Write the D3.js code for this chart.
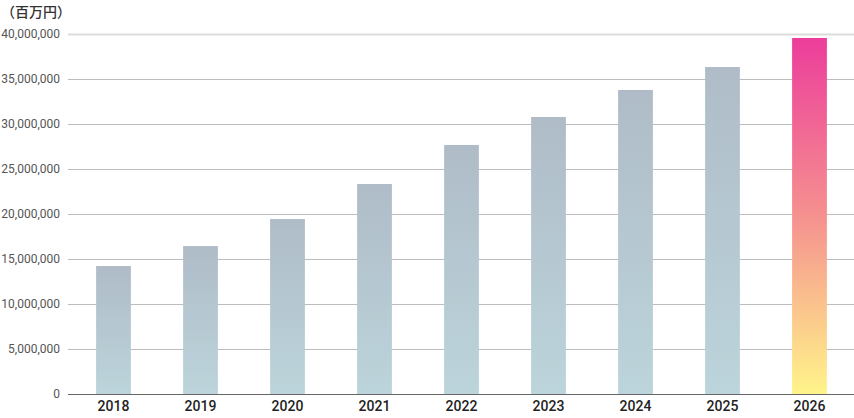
<!DOCTYPE html>
<html><head><meta charset="utf-8">
<script src="https://cdn.jsdelivr.net/npm/d3@7"></script>
<style>body{margin:0;background:#fff}svg{display:block}</style>
</head><body>
<script>
const years = ["2018","2019","2020","2021","2022","2023","2024","2025","2026"];
const values = [14220000,16440000,19440000,23330000,27670000,30780000,33780000,36330000,39560000];
const yTicks = [0,5000000,10000000,15000000,20000000,25000000,30000000,35000000,40000000];
const unitLabel = "（百万円）";

const W=854,H=418;
const svg=d3.select("body").append("svg").attr("width",W).attr("height",H);
const x=d3.scaleBand().domain(years).range([70,853]).paddingInner(0.6).paddingOuter(0.3);
const y=d3.scaleLinear().domain([0,40000000]).range([394,34]);

const defs=svg.append("defs");
const g1=defs.append("linearGradient").attr("id","gGray").attr("x1",0).attr("y1",0).attr("x2",0).attr("y2",1);
g1.append("stop").attr("offset","0%").attr("stop-color","#afbcc7");
g1.append("stop").attr("offset","100%").attr("stop-color","#bcd4db");
const g2=defs.append("linearGradient").attr("id","gHi").attr("x1",0).attr("y1",0).attr("x2",0).attr("y2",1);
g2.append("stop").attr("offset","0%").attr("stop-color","#ec3d9b");
g2.append("stop").attr("offset","50%").attr("stop-color","#f5918f");
g2.append("stop").attr("offset","100%").attr("stop-color","#fff48a");

// grid
const grid=svg.append("g");
grid.selectAll("line").data(yTicks.filter(d=>d>0)).join("line")
 .attr("x1",68).attr("x2",W).attr("y1",d=>Math.round(y(d))+0.5).attr("y2",d=>Math.round(y(d))+0.5)
 .attr("stroke",d=>d===40000000?"#dcdcdc":"#bcbcbc").attr("stroke-width",d=>d===40000000?2:1);

// bars
svg.append("g").selectAll("rect").data(values).join("rect")
 .attr("x",(d,i)=>x(years[i])).attr("width",x.bandwidth())
 .attr("y",d=>y(d)).attr("height",d=>y(0)-y(d))
 .attr("fill",(d,i)=>i===values.length-1?"url(#gHi)":"url(#gGray)");

// baseline
svg.append("line").attr("x1",68).attr("x2",W).attr("y1",394.5).attr("y2",394.5).attr("stroke","#666").attr("stroke-width",1);

// y axis labels
const ya=svg.append("g").attr("transform","translate(60,0)")
 .call(d3.axisLeft(y).tickValues(yTicks).tickSize(0).tickPadding(0).tickFormat(d3.format(",")));
ya.select(".domain").remove();
ya.selectAll("text").attr("font-family","Roboto, sans-serif").attr("font-size",12).attr("fill","#555");

// x axis labels
const xa=svg.append("g").attr("transform","translate(0,394)")
 .call(d3.axisBottom(x).tickSize(0).tickPadding(7));
xa.select(".domain").remove();
xa.selectAll("text").attr("font-family","Roboto, sans-serif").attr("font-size",14).attr("font-weight",500).attr("fill","#222");

svg.append("text").attr("x",1).attr("y",17).text(unitLabel)
 .attr("font-family","'Noto Sans CJK JP', sans-serif").attr("font-size",14).attr("font-weight",500).attr("fill","#333");
</script>
</body></html>
